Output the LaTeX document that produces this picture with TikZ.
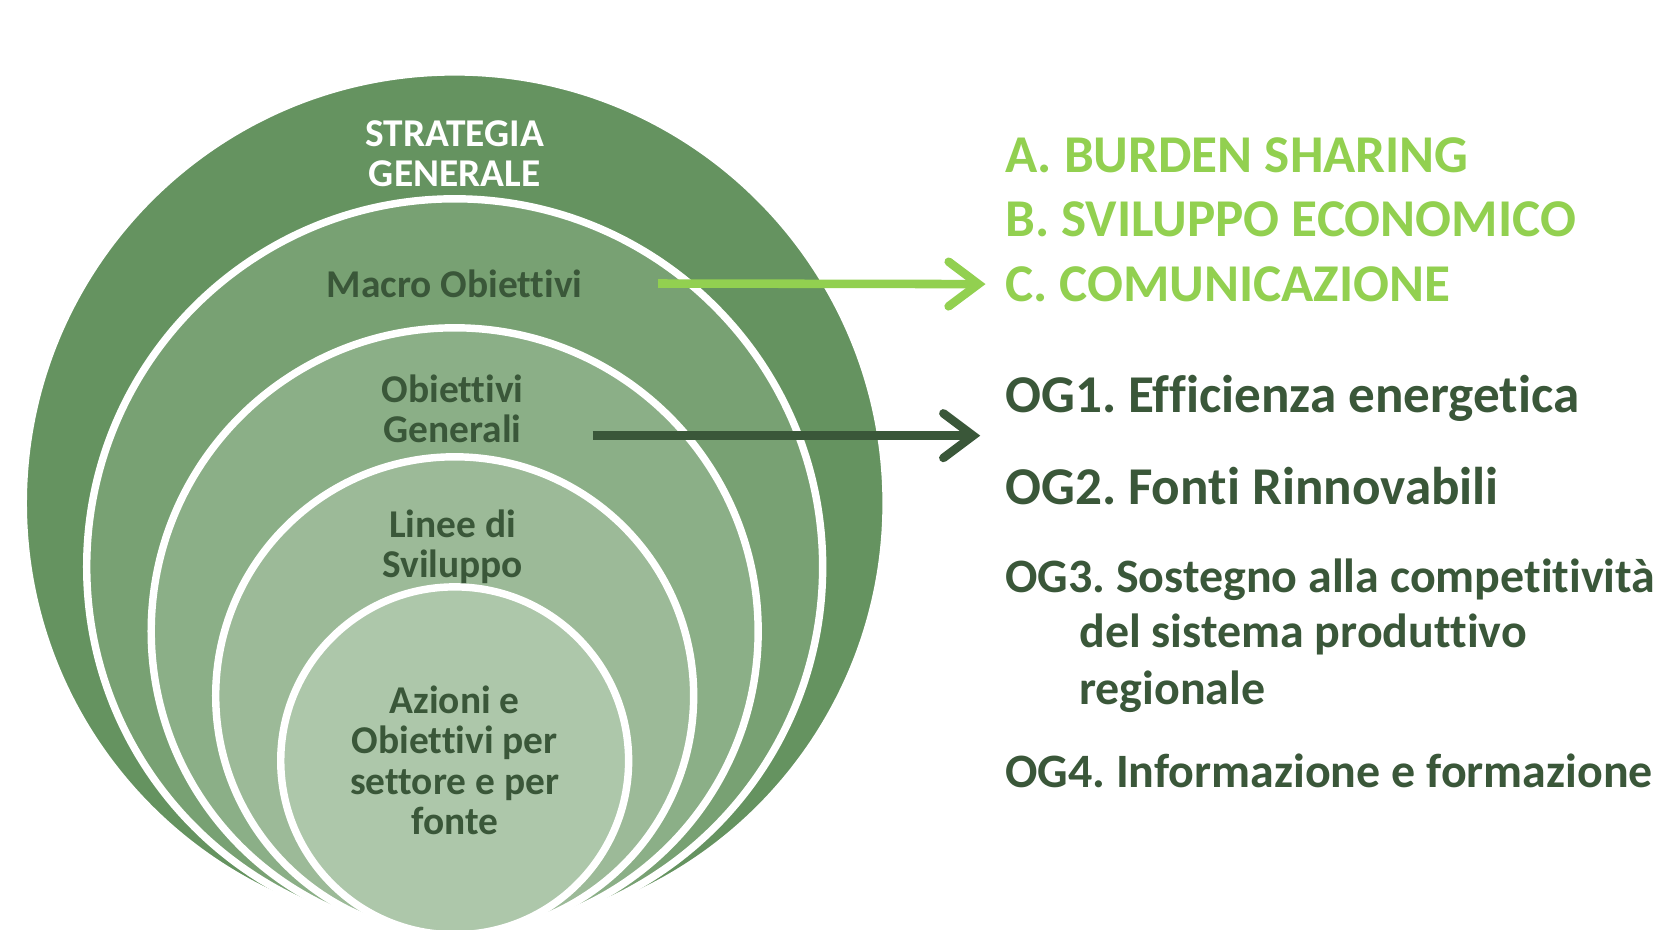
\documentclass[tikz,border=0pt]{standalone}
\usepackage{fontspec}
\setmainfont{Carlito}[Ligatures=NoCommon]
\usetikzlibrary{arrows.meta}
\definecolor{ringone}{RGB}{101, 147, 96}
\definecolor{ringtwo}{RGB}{120, 161, 115}
\definecolor{ringthree}{RGB}{139, 175, 135}
\definecolor{ringfour}{RGB}{156, 186, 152}
\definecolor{ringfive}{RGB}{173, 199, 170}
\definecolor{deepgreen}{RGB}{58, 87, 57}
\definecolor{limegreen}{RGB}{146, 208, 80}

\tikzset{
  ring/.style={circle, draw=white, line width=2pt, inner sep=0pt},
  ringlabel/.style={align=center, text=deepgreen, font=\fontsize{10.6}{10.8}\selectfont\bfseries},
  macrotext/.style={anchor=base west, inner sep=0pt, text=limegreen, font=\fontsize{14.3}{17}\selectfont\bfseries},
  goaltext/.style={anchor=base west, inner sep=0pt, text=deepgreen, font=\fontsize{14.3}{17}\selectfont\bfseries},
  smallgoal/.style={goaltext, font=\fontsize{12.9}{16}\selectfont\bfseries},
  pointer/.style={line width=2.3pt, -{Straight Barb[length=8pt,width=12pt,line cap=round]}}
}

\begin{document}
\frenchspacing
\begin{tikzpicture}
  \useasboundingbox (0,0) rectangle (15.68,8.79);
  \fill[white] (0,0) rectangle (15.68,8.79);

  % Nested circles
  \begin{scope}
    \clip (0,0) rectangle (15.68,8.79);
    \node[ring, fill=ringone, minimum size=8.16cm] (strat) at (4.30,4.03) {};
    \node[ring, fill=ringtwo, minimum size=6.96cm] (macroring) at (4.30,3.43) {};
    \node[ring, fill=ringthree, minimum size=5.74cm] (genring) at (4.30,2.82) {};
    \node[ring, fill=ringfour, minimum size=4.52cm] (linering) at (4.30,2.21) {};
    \node[ring, fill=ringfive, minimum size=3.29cm] (azring) at (4.30,1.595) {};
  \end{scope}

  % Circle labels
  \node[ringlabel, text=white] (stratlabel) at (4.30,7.34) {STRATEGIA\\GENERALE};
  \node[ringlabel] (macro) at (4.30,6.11) {Macro Obiettivi};
  \node[ringlabel] (obgen) at (4.28,4.92) {Obiettivi\\Generali};
  \node[ringlabel] (linee) at (4.28,3.62) {Linee di\\Sviluppo};
  \node[ringlabel] (azioni) at (4.30,1.60) {Azioni e\\Obiettivi per\\settore e per\\fonte};

  % Macro objectives
  \node[macrotext] (mcA) at (9.50,7.16) {A. BURDEN SHARING};
  \node[macrotext] (mcB) at (9.50,6.55) {B. SVILUPPO ECONOMICO};
  \node[macrotext] (mcC) at (9.50,5.94) {C. COMUNICAZIONE};

  % General objectives
  \node[goaltext] (og1) at (9.50,4.89) {OG1. Efficienza energetica};
  \node[goaltext] (og2) at (9.50,4.02) {OG2. Fonti Rinnovabili};
  \node[smallgoal] (og3) at (9.50,3.19) {OG3. Sostegno alla competitività};
  \node[smallgoal] (og3b) at (10.20,2.67) {del sistema produttivo};
  \node[smallgoal] (og3c) at (10.20,2.13) {regionale};
  \node[smallgoal] (og4) at (9.50,1.34) {OG4. Informazione e formazione};

  % Arrows
  \coordinate (ogtip) at (9.27,4.67);
  \draw[pointer, limegreen, shorten <=0.59cm, shorten >=0.18cm] (macro.east) -- (mcC.west);
  \draw[pointer, deepgreen, shorten <=0.53cm] (obgen.east |- ogtip) -- (ogtip);
\end{tikzpicture}
\end{document}
